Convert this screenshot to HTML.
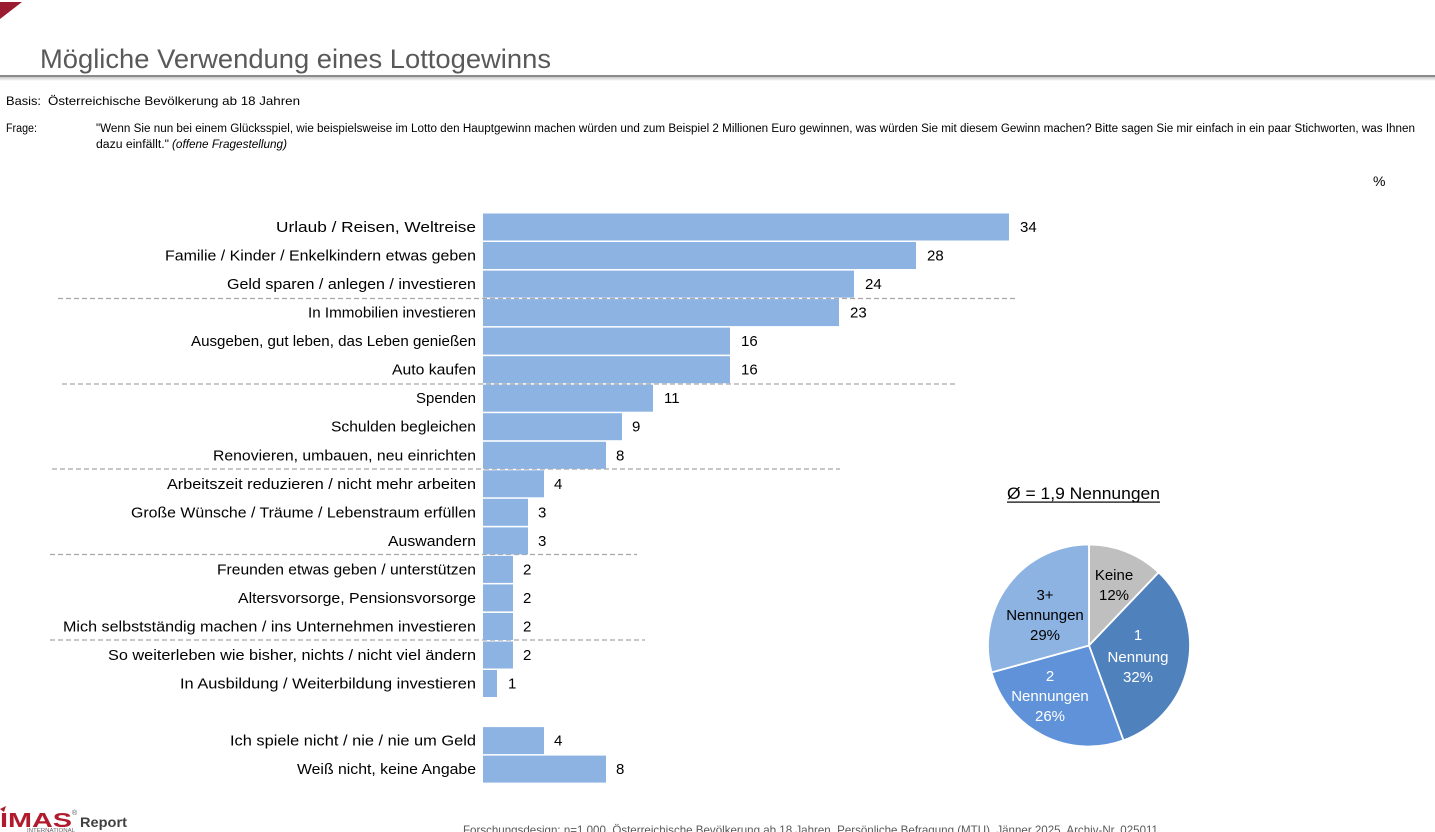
<!DOCTYPE html>
<html><head><meta charset="utf-8"><style>
html,body{margin:0;padding:0;background:#fff;}
svg{display:block;}
text{font-family:"Liberation Sans",sans-serif;}
</style></head><body>
<svg width="1435" height="832" viewBox="0 0 1435 832" xmlns="http://www.w3.org/2000/svg">
<defs>
<linearGradient id="sh" x1="0" y1="0" x2="0" y2="1"><stop offset="0" stop-color="#c8c8c8"/><stop offset="1" stop-color="#ffffff"/></linearGradient>
</defs>
<rect width="1435" height="832" fill="#fff"/>
<polygon points="0,2 22,2 0,19" fill="#9b1b30"/>
<text x="40" y="68" font-size="27" fill="#595959" textLength="511" lengthAdjust="spacingAndGlyphs">Mögliche Verwendung eines Lottogewinns</text>
<rect x="0" y="75" width="1435" height="2" fill="#8a8a8a"/>
<rect x="0" y="77" width="1435" height="4" fill="url(#sh)"/>

<text x="6" y="105" font-size="12" fill="#000" textLength="35" lengthAdjust="spacingAndGlyphs">Basis:</text>
<text x="48" y="105" font-size="12" fill="#000" textLength="252" lengthAdjust="spacingAndGlyphs">Österreichische Bevölkerung ab 18 Jahren</text>
<text x="6" y="132" font-size="11.5" fill="#000" textLength="31" lengthAdjust="spacingAndGlyphs">Frage:</text>
<text x="96" y="132" font-size="11.5" fill="#000" textLength="1319" lengthAdjust="spacingAndGlyphs">"Wenn Sie nun bei einem Glücksspiel, wie beispielsweise im Lotto den Hauptgewinn machen würden und zum Beispiel 2 Millionen Euro gewinnen, was würden Sie mit diesem Gewinn machen? Bitte sagen Sie mir einfach in ein paar Stichworten, was Ihnen</text>
<text x="96" y="148" font-size="11.5" fill="#000" textLength="73" lengthAdjust="spacingAndGlyphs">dazu einfällt."</text>
<text x="172" y="148" font-size="11.5" fill="#000" font-style="italic" textLength="115" lengthAdjust="spacingAndGlyphs">(offene Fragestellung)</text>
<text x="1373" y="186" font-size="14" fill="#000">%</text>

<g stroke="#a6a6a6" stroke-width="1.3" stroke-dasharray="5,3">
<line x1="58" y1="298.5" x2="1015" y2="298.5"/>
<line x1="62" y1="384" x2="955" y2="384"/>
<line x1="52" y1="469" x2="840" y2="469"/>
<line x1="50" y1="554.5" x2="637" y2="554.5"/>
<line x1="50" y1="640" x2="645" y2="640"/>
</g>

<g fill="#8db3e2">
<rect x="483" y="213.5" width="526" height="27"/>
<rect x="483" y="242" width="433" height="27"/>
<rect x="483" y="270.6" width="371" height="27"/>
<rect x="483" y="299.1" width="356" height="27"/>
<rect x="483" y="327.6" width="247" height="27"/>
<rect x="483" y="356.2" width="247" height="27"/>
<rect x="483" y="384.7" width="170" height="27"/>
<rect x="483" y="413.2" width="139" height="27"/>
<rect x="483" y="441.8" width="123" height="27"/>
<rect x="483" y="470.3" width="61" height="27"/>
<rect x="483" y="498.8" width="45" height="27"/>
<rect x="483" y="527.4" width="45" height="27"/>
<rect x="483" y="555.9" width="30" height="27"/>
<rect x="483" y="584.4" width="30" height="27"/>
<rect x="483" y="613" width="30" height="27"/>
<rect x="483" y="641.5" width="30" height="27"/>
<rect x="483" y="670" width="14" height="27"/>
<rect x="483" y="727.1" width="61" height="27"/>
<rect x="483" y="755.6" width="123" height="27"/>
</g>

<g font-size="15" fill="#000" lengthAdjust="spacingAndGlyphs">
<text x="276" y="232" textLength="200" lengthAdjust="spacingAndGlyphs">Urlaub / Reisen, Weltreise</text>
<text x="165" y="260.5" textLength="311" lengthAdjust="spacingAndGlyphs">Familie / Kinder / Enkelkindern etwas geben</text>
<text x="227" y="289" textLength="249" lengthAdjust="spacingAndGlyphs">Geld sparen / anlegen / investieren</text>
<text x="308" y="317.6" textLength="168" lengthAdjust="spacingAndGlyphs">In Immobilien investieren</text>
<text x="191" y="346.1" textLength="285" lengthAdjust="spacingAndGlyphs">Ausgeben, gut leben, das Leben genießen</text>
<text x="392" y="374.7" textLength="84" lengthAdjust="spacingAndGlyphs">Auto kaufen</text>
<text x="416" y="403.2" textLength="60" lengthAdjust="spacingAndGlyphs">Spenden</text>
<text x="331" y="431.7" textLength="145" lengthAdjust="spacingAndGlyphs">Schulden begleichen</text>
<text x="213" y="460.3" textLength="263" lengthAdjust="spacingAndGlyphs">Renovieren, umbauen, neu einrichten</text>
<text x="167" y="488.8" textLength="309" lengthAdjust="spacingAndGlyphs">Arbeitszeit reduzieren / nicht mehr arbeiten</text>
<text x="131" y="517.3" textLength="345" lengthAdjust="spacingAndGlyphs">Große Wünsche / Träume / Lebenstraum erfüllen</text>
<text x="388" y="545.9" textLength="88" lengthAdjust="spacingAndGlyphs">Auswandern</text>
<text x="217" y="574.4" textLength="259" lengthAdjust="spacingAndGlyphs">Freunden etwas geben / unterstützen</text>
<text x="238" y="602.9" textLength="238" lengthAdjust="spacingAndGlyphs">Altersvorsorge, Pensionsvorsorge</text>
<text x="63" y="631.5" textLength="413" lengthAdjust="spacingAndGlyphs">Mich selbstständig machen / ins Unternehmen investieren</text>
<text x="108" y="660" textLength="368" lengthAdjust="spacingAndGlyphs">So weiterleben wie bisher, nichts / nicht viel ändern</text>
<text x="180" y="688.5" textLength="296" lengthAdjust="spacingAndGlyphs">In Ausbildung / Weiterbildung investieren</text>
<text x="230" y="745.6" textLength="246" lengthAdjust="spacingAndGlyphs">Ich spiele nicht / nie / nie um Geld</text>
<text x="297" y="774.1" textLength="179" lengthAdjust="spacingAndGlyphs">Weiß nicht, keine Angabe</text>
</g>

<g font-size="15" fill="#000">
<text x="1020" y="232">34</text>
<text x="927" y="260.5">28</text>
<text x="865" y="289">24</text>
<text x="850" y="317.6">23</text>
<text x="741" y="346.1">16</text>
<text x="741" y="374.7">16</text>
<text x="664" y="403.2">11</text>
<text x="632" y="431.7">9</text>
<text x="616" y="460.3">8</text>
<text x="554" y="488.8">4</text>
<text x="538" y="517.3">3</text>
<text x="538" y="545.9">3</text>
<text x="523" y="574.4">2</text>
<text x="523" y="602.9">2</text>
<text x="523" y="631.5">2</text>
<text x="523" y="660">2</text>
<text x="508" y="688.5">1</text>
<text x="554" y="745.6">4</text>
<text x="616" y="774.1">8</text>
</g>

<text x="1007" y="499" font-size="17" fill="#000" textLength="153" lengthAdjust="spacingAndGlyphs">Ø = 1,9 Nennungen</text>
<rect x="1007" y="501.5" width="153" height="1.2" fill="#000"/>

<g stroke="#fff" stroke-width="1.8" stroke-linejoin="round">
<path d="M1089,645.5 L1089,544.5 A101,101 0 0 1 1158.7,572.4 Z" fill="#bfbfbf"/>
<path d="M1089,645.5 L1158.7,572.4 A101,101 0 0 1 1123.5,740.4 Z" fill="#4f81bd"/>
<path d="M1089,645.5 L1123.5,740.4 A101,101 0 0 1 991.6,672.4 Z" fill="#5f92d8"/>
<path d="M1089,645.5 L991.6,672.4 A101,101 0 0 1 1089,544.5 Z" fill="#8db3e2"/>
</g>
<g font-size="15" text-anchor="middle">
<text x="1114" y="580" fill="#000">Keine</text>
<text x="1114" y="600" fill="#000">12%</text>
<text x="1138" y="640" fill="#fff">1</text>
<text x="1138" y="662" fill="#fff">Nennung</text>
<text x="1138" y="682" fill="#fff">32%</text>
<text x="1050" y="681" fill="#fff">2</text>
<text x="1050" y="701" fill="#fff">Nennungen</text>
<text x="1050" y="721" fill="#fff">26%</text>
<text x="1045" y="600" fill="#000">3+</text>
<text x="1045" y="620" fill="#000">Nennungen</text>
<text x="1045" y="640" fill="#000">29%</text>
</g>

<g>
<polygon points="0,809 6,806 4,812" fill="#b01c2e"/>
<text x="0" y="827" font-size="20" font-weight="bold" fill="#b01c2e" textLength="72" lengthAdjust="spacingAndGlyphs">IMAS</text>
<text x="72" y="815" font-size="7" fill="#555">®</text>
<text x="80" y="827" font-size="14" font-weight="bold" fill="#404040" textLength="47" lengthAdjust="spacingAndGlyphs">Report</text>
<text x="27" y="832" font-size="5" fill="#666" textLength="48" lengthAdjust="spacingAndGlyphs">INTERNATIONAL</text>
</g>
<text x="463" y="834" font-size="12" fill="#595959" textLength="695" lengthAdjust="spacingAndGlyphs">Forschungsdesign: n=1.000, Österreichische Bevölkerung ab 18 Jahren, Persönliche Befragung (MTU), Jänner 2025, Archiv-Nr. 025011</text>
</svg>
</body></html>
